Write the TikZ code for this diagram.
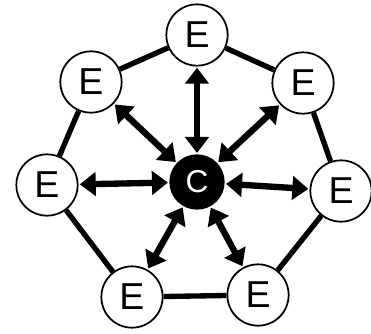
\documentclass[tikz,border=0pt]{standalone}
\usepackage{fontspec}
\setmainfont{Liberation Sans}
\usepackage{tikz}
\usetikzlibrary{arrows.meta}

\begin{document}
\begin{tikzpicture}[x=0.03cm,y=-0.03cm,
   ent/.style={circle,draw,line width=1.5pt,fill=white,minimum size=1.84cm,inner sep=0pt,
     font=\fontsize{32}{32}\selectfont},
   hub/.style={circle,fill=black,text=white,minimum size=1.66cm,inner sep=0pt,
     font=\fontsize{27}{27}\selectfont},
   ring/.style={line width=0.16cm},
   link/.style={line width=0.19cm,{Triangle[length=0.48cm,width=0.7cm]}-{Triangle[length=0.48cm,width=0.7cm]},
     shorten <=1pt,shorten >=1pt}]
\useasboundingbox (0,0) rectangle (371,333);
\node[hub] (c) at (197,182) {C};
\node[ent] (t) at (197,35) {E};
\node[ent] (ul) at (91,82) {E};
\node[ent] (ur) at (303,83) {E};
\node[ent] (l) at (47,185) {E};
\node[ent] (r) at (341,191) {E};
\node[ent] (bl) at (132,297) {E};
\node[ent] (br) at (258,295) {E};
% outer ring
\draw[ring] (t) -- (ur) -- (r) -- (br) -- (bl) -- (l) -- (ul) -- (t);
% spokes
\foreach \n in {t,ul,ur,l,r,bl,br}
  \draw[link] (c) -- (\n);
\end{tikzpicture}
\end{document}
